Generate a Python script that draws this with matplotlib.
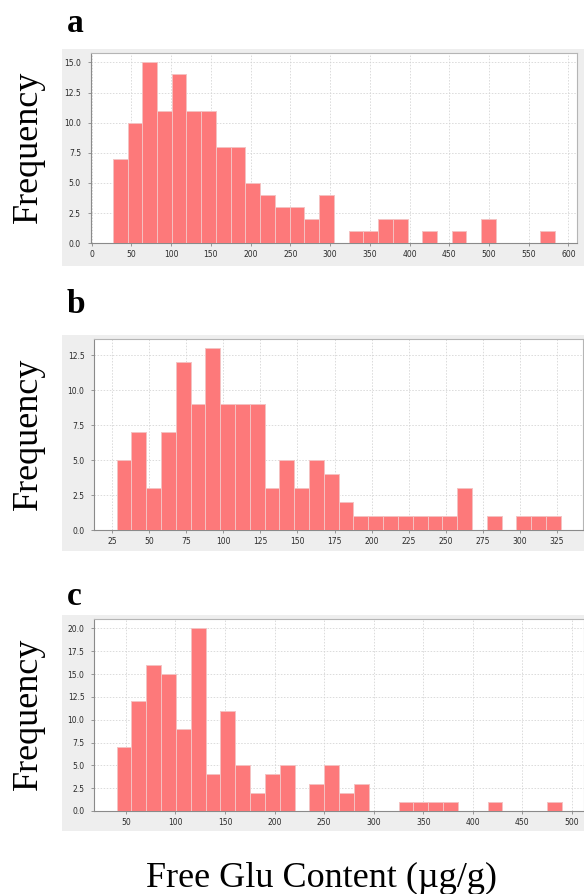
import numpy as np
import matplotlib
matplotlib.use("Agg")
import matplotlib.pyplot as plt
from matplotlib.patches import Rectangle

# ---------------- data ----------------
counts_a = [7, 10, 15, 11, 14, 11, 11, 8, 8, 5, 4, 3, 3, 2, 4,
            0, 1, 1, 2, 2, 0, 1, 0, 1, 0, 2, 0, 0, 0, 1]
bin_start_a = 26.5
bin_width_a = 18.55
xticks_a = [0, 50, 100, 150, 200, 250, 300, 350, 400, 450, 500, 550, 600]
yticks_a = [0.0, 2.5, 5.0, 7.5, 10.0, 12.5, 15.0]

counts_b = [5, 7, 3, 7, 12, 9, 13, 9, 9, 9, 3, 5, 3, 5, 4,
            2, 1, 1, 1, 1, 1, 1, 1, 3, 0, 1, 0, 1, 1, 1]
bin_start_b = 27.8
bin_width_b = 10.0
xticks_b = [25, 50, 75, 100, 125, 150, 175, 200, 225, 250, 275, 300, 325]
yticks_b = [0.0, 2.5, 5.0, 7.5, 10.0, 12.5]

counts_c = [7, 12, 16, 15, 9, 20, 4, 11, 5, 2, 4, 5, 0, 3, 5,
            2, 3, 0, 0, 1, 1, 1, 1, 0, 0, 1, 0, 0, 0, 1]
bin_start_c = 40.6
bin_width_c = 14.97
xticks_c = [50, 100, 150, 200, 250, 300, 350, 400, 450, 500]
yticks_c = [0.0, 2.5, 5.0, 7.5, 10.0, 12.5, 15.0, 17.5, 20.0]

panel_labels = ["a", "b", "c"]
y_label = "Frequency"
x_label = "Free Glu Content (\u00b5g/g)"

# ---------------- layout ----------------
W, H = 584, 894
fig = plt.figure(figsize=(W / 100, H / 100), dpi=100)
fig.patch.set_facecolor("white")

def fx(px):
    return px / W

def fy(py):
    return 1 - py / H

BAR = "#FD797A"
BAR_EDGE = "#F4C2C2"
GREY_BG = "#EEEEEE"
GRID = "#D2D2D2"
TICK_COL = "#2A2A2A"

panels = [
    dict(counts=counts_a, start=bin_start_a, width=bin_width_a, xt=xticks_a, yt=yticks_a,
         ax=(90.7, 53.3, 577, 243.3), bg=(62, 49.3, 584, 266), lab=(67, 32)),
    dict(counts=counts_b, start=bin_start_b, width=bin_width_b, xt=xticks_b, yt=yticks_b,
         ax=(94.3, 339.3, 583, 530), bg=(62, 335, 584, 551), lab=(67, 313)),
    dict(counts=counts_c, start=bin_start_c, width=bin_width_c, xt=xticks_c, yt=yticks_c,
         ax=(94.3, 619.3, 584, 811), bg=(62, 615, 584, 831), lab=(67, 605)),
]

for i, p in enumerate(panels):
    l, t, r, b = p["bg"]
    fig.patches.append(Rectangle((fx(l), fy(b)), fx(r - l), (b - t) / H,
                                 transform=fig.transFigure, facecolor=GREY_BG,
                                 edgecolor="none", zorder=-10))
    l, t, r, b = p["ax"]
    ax = fig.add_axes([fx(l), fy(b), fx(r - l), (b - t) / H])
    ax.set_zorder(2)
    ax.set_facecolor("white")
    counts = np.array(p["counts"], dtype=float)
    n = len(counts)
    lefts = p["start"] + p["width"] * np.arange(n)
    mask = counts > 0
    ax.bar(lefts[mask], counts[mask], width=p["width"], align="edge",
           color=BAR, edgecolor=BAR_EDGE, linewidth=0.7, zorder=3)
    lo = p["start"]
    hi = p["start"] + p["width"] * n
    m = 0.05 * (hi - lo)
    ax.set_xlim(lo - m, hi + m)
    ax.set_ylim(0, counts.max() * 1.05)
    ax.set_xticks(p["xt"])
    ax.set_yticks(p["yt"])
    ax.set_xticklabels([str(v) for v in p["xt"]])
    ax.set_yticklabels([f"{v:.1f}" for v in p["yt"]])
    ax.grid(True, color=GRID, linewidth=0.55, linestyle=(0, (2, 2)), zorder=0)
    ax.set_axisbelow(True)
    for s in ["top", "right"]:
        ax.spines[s].set_color("#B5B5B5")
        ax.spines[s].set_linewidth(0.8)
    for s in ["left", "bottom"]:
        ax.spines[s].set_color("#8A8A8A")
        ax.spines[s].set_linewidth(0.8)
    ax.tick_params(axis="both", labelsize=5.5, colors="#888888", labelcolor=TICK_COL,
                   length=2, width=0.6, direction="out")
    ax.tick_params(axis="x", pad=3)
    ax.tick_params(axis="y", pad=5)
    for lab in ax.get_xticklabels() + ax.get_yticklabels():
        lab.set_family("DejaVu Sans")

    # panel letter
    lx, ly = p["lab"]
    fig.text(fx(lx), fy(ly), panel_labels[i], fontsize=24, fontweight="bold",
             family="Liberation Serif", ha="left", va="baseline")
    # y label
    fig.text(fx(28), fy((t + b) / 2 - 1), y_label, fontsize=26, family="Liberation Serif",
             rotation=90, ha="center", va="center")

fig.text(fx(322), fy(887), x_label, fontsize=26, family="Liberation Serif",
         ha="center", va="baseline")

fig.savefig("out.png", dpi=100)
